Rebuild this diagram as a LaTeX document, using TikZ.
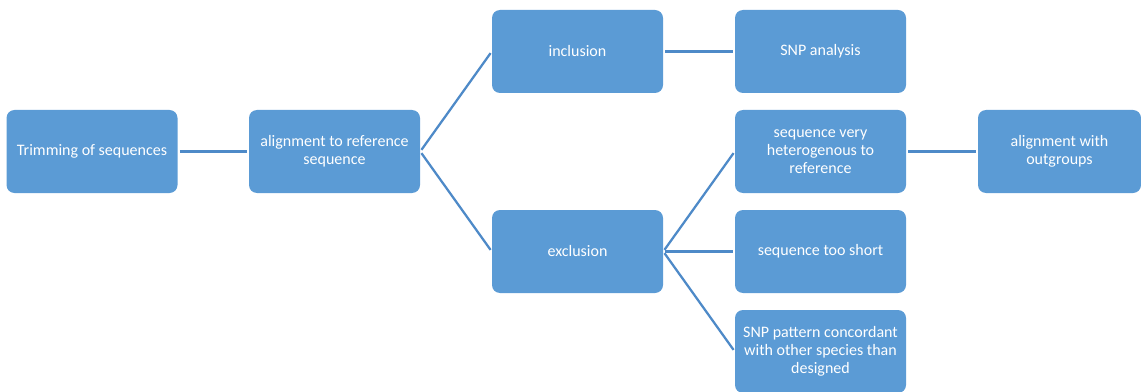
\documentclass[tikz,border=0pt]{standalone}
\usepackage{fontspec}
\setmainfont{Carlito}
\definecolor{boxblue}{HTML}{5B9BD5}
\definecolor{lineblue}{HTML}{4E8AC8}
\begin{document}
\begin{tikzpicture}[x=0.75pt,y=-0.75pt,
  stepbox/.style={draw=none, fill=boxblue, rounded corners=6pt, text=white,
    minimum width=128.25pt, minimum height=62.25pt, inner sep=0pt, align=center,
    font=\fontsize{12}{13.3}\selectfont},
  conn/.style={draw=lineblue, line width=1.7pt, shorten >=1.5pt, shorten <=1.5pt}]
\useasboundingbox (0,0) rectangle (1141,392);
\node[stepbox] (trim) at (92,151.5) {Trimming of sequences};
\node[stepbox] (align) at (334.5,151.5) {alignment to reference\\sequence};
\node[stepbox] (incl) at (577.5,51.5) {inclusion};
\node[stepbox] (excl) at (577.5,251.5) {exclusion};
\node[stepbox] (snp) at (820.5,51.5) {SNP analysis};
\node[stepbox] (hetero) at (820.5,151.5) {sequence very\\heterogenous to\\reference};
\node[stepbox] (short) at (820.5,251.5) {sequence too short};
\node[stepbox] (pattern) at (820.5,351.5) {SNP pattern concordant\\with other species than\\designed};
\node[stepbox, minimum width=122.25pt] (out) at (1059.5,151.5) {alignment with\\outgroups};
\draw[conn] (trim.east) -- (align.west);
\draw[conn] (align.east) -- (incl.west);
\draw[conn] (align.east) -- (excl.west);
\draw[conn] (incl.east) -- (snp.west);
\draw[conn] (excl.east) -- (hetero.west);
\draw[conn] (excl.east) -- (short.west);
\draw[conn] (excl.east) -- (pattern.west);
\draw[conn] (hetero.east) -- (out.west);
\end{tikzpicture}
\end{document}
